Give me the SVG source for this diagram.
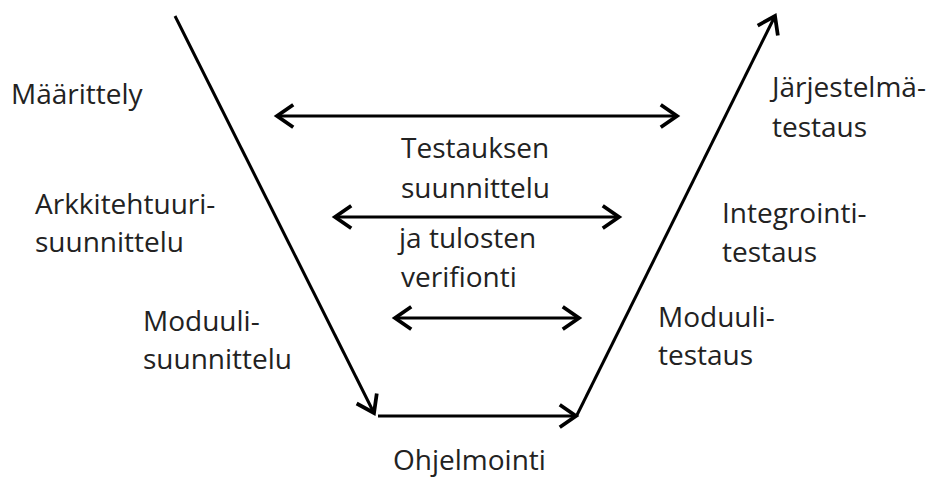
<svg xmlns="http://www.w3.org/2000/svg" width="929" height="479" viewBox="0 0 929 479">
<style>
  text { font-family: "Open Sans", "Liberation Sans", sans-serif; font-size: 28px; fill: #222; }
  .ln { stroke: #000; stroke-width: 3; fill: none; }
</style>
<defs>
  <marker id="ah" markerUnits="userSpaceOnUse" markerWidth="30" markerHeight="30" viewBox="-16 -12 20 24" refX="0" refY="0" orient="auto-start-reverse">
    <path d="M-13,-9 L0,0 L-13,9" fill="none" stroke="#000" stroke-width="3" stroke-linejoin="miter"/>
  </marker>
</defs>
<rect width="929" height="479" fill="#fff"/>
<g id="connectors">
  <line class="ln" x1="175" y1="16" x2="374" y2="413" marker-end="url(#ah)"/>
  <line class="ln" x1="378" y1="416" x2="576" y2="416" marker-end="url(#ah)"/>
  <line class="ln" x1="577" y1="415" x2="775" y2="16" marker-end="url(#ah)"/>
  <line class="ln" x1="277" y1="116" x2="677" y2="116" marker-start="url(#ah)" marker-end="url(#ah)"/>
  <line class="ln" x1="335" y1="217" x2="619" y2="217" marker-start="url(#ah)" marker-end="url(#ah)"/>
  <line class="ln" x1="395" y1="318" x2="579" y2="318" marker-start="url(#ah)" marker-end="url(#ah)"/>
</g>
<g id="maarittely"><text x="11" y="104">Määrittely</text></g>
<g id="arkkitehtuuri"><text x="35" y="214">Arkkitehtuuri-</text><text x="35" y="252">suunnittelu</text></g>
<g id="moduulisuunnittelu"><text x="143" y="331">Moduuli-</text><text x="143" y="369">suunnittelu</text></g>
<g id="testaus-center"><text x="401" y="158">Testauksen</text><text x="401" y="198">suunnittelu</text><text x="399" y="248">ja tulosten</text><text x="401" y="287">verifionti</text></g>
<g id="jarjestelma"><text x="772" y="97">Järjestelmä-</text><text x="772" y="137">testaus</text></g>
<g id="integrointi"><text x="722" y="223">Integrointi-</text><text x="722" y="262">testaus</text></g>
<g id="moduulitestaus"><text x="658" y="327">Moduuli-</text><text x="658" y="365">testaus</text></g>
<g id="ohjelmointi"><text x="393" y="470">Ohjelmointi</text></g>
</svg>
